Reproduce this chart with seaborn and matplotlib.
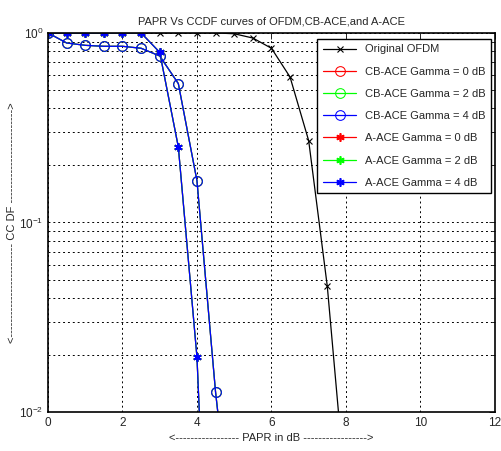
import matplotlib.pyplot as plt
import seaborn as sns
import numpy as np

# PAPR in dB (x axis)
papr_ofdm = [0, 0.5, 1, 1.5, 2, 2.5, 3, 3.5, 4, 4.5, 5, 5.5, 6, 6.5, 7, 7.5, 8]
ccdf_ofdm = [1, 1, 1, 1, 1, 1, 1, 1, 1, 1, 0.99, 0.94, 0.83, 0.585, 0.27, 0.046, 0.0036]

papr_cb = [0, 0.5, 1, 1.5, 2, 2.5, 3, 3.5, 4, 4.5, 5]
ccdf_cb_0 = [1, 0.885, 0.86, 0.85, 0.85, 0.83, 0.756, 0.54, 0.166, 0.0127, 0.0017]
ccdf_cb_2 = [1, 0.885, 0.86, 0.85, 0.85, 0.83, 0.756, 0.54, 0.166, 0.0127, 0.0017]
ccdf_cb_4 = [1, 0.885, 0.86, 0.85, 0.85, 0.83, 0.756, 0.54, 0.166, 0.0127, 0.0017]

papr_a = [0, 0.5, 1, 1.5, 2, 2.5, 3, 3.5, 4, 4.5]
ccdf_a_0 = [1, 1, 1, 1, 1, 1, 0.79, 0.25, 0.0195, 0.0001]
ccdf_a_2 = [1, 1, 1, 1, 1, 1, 0.79, 0.25, 0.0195, 0.0001]
ccdf_a_4 = [1, 1, 1, 1, 1, 1, 0.79, 0.25, 0.0195, 0.0001]

sns.set_style("white")
plt.rcParams['font.family'] = ['Liberation Sans', 'DejaVu Sans']

fig = plt.figure(figsize=(5.01, 4.51), dpi=100)
ax = fig.add_axes([0.0958, 0.0865, 0.892, 0.8405])

lw = 0.9
sns.lineplot(x=papr_ofdm, y=ccdf_ofdm, ax=ax, color='black', marker='x', markersize=4,
             markeredgecolor='black', markeredgewidth=0.8, linewidth=lw, label='Original OFDM')
sns.lineplot(x=papr_cb, y=ccdf_cb_0, ax=ax, color='red', marker='o', markersize=7,
             markerfacecolor='none', markeredgecolor='red', linewidth=lw, label='CB-ACE Gamma = 0 dB')
sns.lineplot(x=papr_cb, y=ccdf_cb_2, ax=ax, color='#00ff00', marker='o', markersize=7,
             markerfacecolor='none', markeredgecolor='#00ff00', linewidth=lw, label='CB-ACE Gamma = 2 dB')
sns.lineplot(x=papr_cb, y=ccdf_cb_4, ax=ax, color='blue', marker='o', markersize=7,
             markerfacecolor='none', markeredgecolor='blue', linewidth=lw, label='CB-ACE Gamma = 4 dB')
sns.lineplot(x=papr_a, y=ccdf_a_0, ax=ax, color='red', marker=(6, 2, 0), markersize=6,
             markeredgecolor='red', markeredgewidth=1.2, linewidth=lw, label='A-ACE Gamma = 0 dB')
sns.lineplot(x=papr_a, y=ccdf_a_2, ax=ax, color='#00ff00', marker=(6, 2, 0), markersize=6,
             markeredgecolor='#00ff00', markeredgewidth=1.2, linewidth=lw, label='A-ACE Gamma = 2 dB')
sns.lineplot(x=papr_a, y=ccdf_a_4, ax=ax, color='blue', marker=(6, 2, 0), markersize=6,
             markeredgecolor='blue', markeredgewidth=1.2, linewidth=lw, label='A-ACE Gamma = 4 dB')

ax.set_yscale('log')
ax.set_xlim(0, 12)
ax.set_ylim(1e-2, 1)
ax.set_xticks([0, 2, 4, 6, 8, 10, 12])
ax.grid(True, which='major', axis='both', color='black', linestyle=(0, (2, 3)), linewidth=0.7)
ax.grid(True, which='minor', axis='y', color='black', linestyle=(0, (2, 3)), linewidth=0.7)
ax.tick_params(which='both', direction='in', top=True, right=True, labelsize=8.5, length=4, width=0.7)
ax.tick_params(which='minor', length=2)
for s in ax.spines.values():
    s.set_color('black')
    s.set_linewidth(1.2)

ax.set_title('PAPR Vs CCDF curves of OFDM,CB-ACE,and A-ACE', fontsize=8, pad=6)
ax.set_xlabel('<' + '-' * 17 + ' PAPR in dB ' + '-' * 17 + '>', fontsize=8, labelpad=3)
ax.set_ylabel('<' + '-' * 25 + ' CC DF ' + '-' * 25 + '>', fontsize=8)
ax.yaxis.set_label_coords(-0.07, 0.5)

leg = ax.legend(loc='upper right', fontsize=8, frameon=True, fancybox=False,
                edgecolor='black', framealpha=1, borderpad=0.5, labelspacing=1.1,
                handlelength=3, borderaxespad=0.2, bbox_to_anchor=(0.997, 0.99))
leg.get_frame().set_linewidth(1.0)

fig.savefig('out.png', dpi=100)
